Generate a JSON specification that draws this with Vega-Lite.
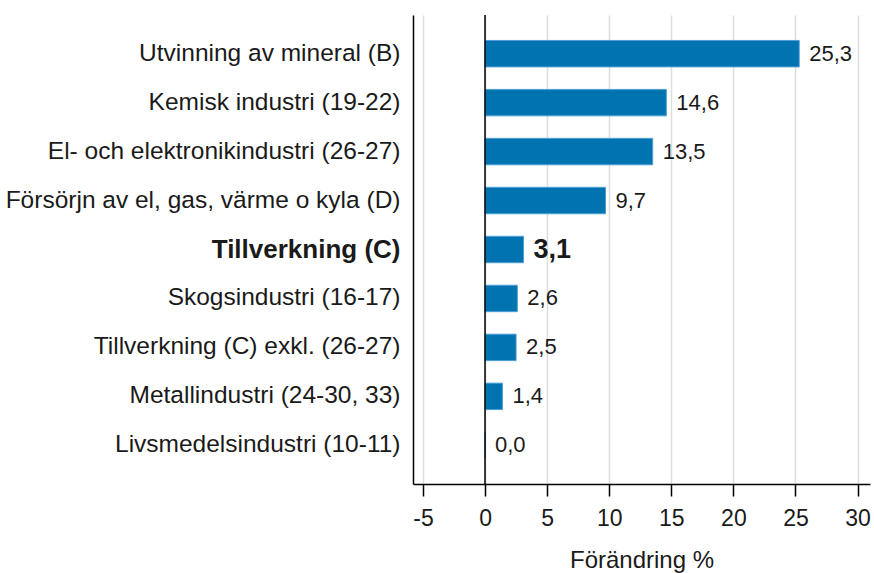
{
  "$schema": "https://vega.github.io/schema/vega-lite/v6.json",
  "width": 457,
  "height": 469,
  "autosize": "none",
  "padding": {"left": 413, "top": 15, "right": 4, "bottom": 89},
  "config": {
    "view": {"stroke": null},
    "font": "Liberation Sans",
    "locale": {"number": {"decimal": ",", "thousands": " ", "grouping": [3], "currency": ["", " €"], "minus": "-"}}
  },
  "data": {
    "values": [
      {"cat": "Utvinning av mineral (B)", "v": 25.3},
      {"cat": "Kemisk industri (19-22)", "v": 14.6},
      {"cat": "El- och elektronikindustri (26-27)", "v": 13.5},
      {"cat": "Försörjn av el, gas, värme o kyla (D)", "v": 9.7},
      {"cat": "Tillverkning (C)", "v": 3.1},
      {"cat": "Skogsindustri (16-17)", "v": 2.6},
      {"cat": "Tillverkning (C) exkl. (26-27)", "v": 2.5},
      {"cat": "Metallindustri (24-30, 33)", "v": 1.4},
      {"cat": "Livsmedelsindustri (10-11)", "v": 0.0}
    ]
  },
  "encoding": {
    "y": {
      "field": "cat", "type": "nominal", "sort": null,
      "scale": {"paddingInner": 0.46, "paddingOuter": 0.52},
      "axis": {
        "title": null, "ticks": false, "grid": false,
        "domain": true, "domainColor": "#000000", "domainWidth": 1.5,
        "labelColor": "#1a1a1a", "labelPadding": 13, "labelLimit": 600,
        "labelFontWeight": {"condition": {"test": "datum.value === 'Tillverkning (C)'", "value": "bold"}, "value": "normal"},
        "labelFontSize": {"condition": {"test": "datum.value === 'Tillverkning (C)'", "value": 26}, "value": 24.5}
      }
    }
  },
  "layer": [
    {
      "mark": {"type": "bar", "color": "#0073B0", "stroke": "#4d9fd6", "strokeWidth": 1},
      "encoding": {
        "x": {
          "field": "v", "type": "quantitative",
          "scale": {"domain": [-5.8, 31], "nice": false, "zero": false},
          "axis": {
            "title": "Förändring %", "titleFontSize": 24, "titleFontWeight": "normal", "titleColor": "#1a1a1a", "titlePadding": 18,
            "values": [-5, 0, 5, 10, 15, 20, 25, 30], "format": "d",
            "grid": true, "gridColor": "#dddddd", "gridWidth": 1.5,
            "domainColor": "#000000", "domainWidth": 1.5,
            "tickColor": "#000000", "tickSize": 12, "tickWidth": 1.5,
            "labelFontSize": 23, "labelColor": "#1a1a1a", "labelPadding": 11, "labelFlush": false
          }
        }
      }
    },
    {
      "data": {"values": [{"z": 0}]},
      "mark": {"type": "rule", "color": "#000000", "strokeWidth": 1.5},
      "encoding": {"x": {"field": "z", "type": "quantitative"}, "y": null}
    },
    {
      "transform": [{"filter": "datum.cat !== 'Tillverkning (C)'"}],
      "mark": {"type": "text", "align": "left", "baseline": "middle", "dx": 10, "color": "#1a1a1a", "fontSize": 22},
      "encoding": {
        "x": {"field": "v", "type": "quantitative"},
        "text": {"field": "v", "type": "quantitative", "format": ".1f"}
      }
    },
    {
      "transform": [{"filter": "datum.cat === 'Tillverkning (C)'"}],
      "mark": {"type": "text", "align": "left", "baseline": "middle", "dx": 10, "color": "#1a1a1a", "fontSize": 27, "fontWeight": "bold"},
      "encoding": {
        "x": {"field": "v", "type": "quantitative"},
        "text": {"field": "v", "type": "quantitative", "format": ".1f"}
      }
    }
  ]
}
